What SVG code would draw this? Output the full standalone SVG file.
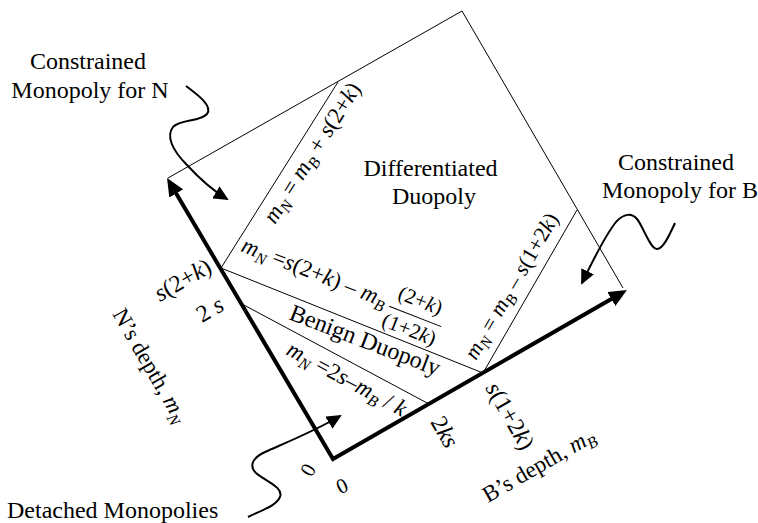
<svg xmlns="http://www.w3.org/2000/svg" width="758" height="523" viewBox="0 0 758 523">
<style>
text{font-family:"Liberation Serif","Times New Roman",serif;fill:#000}
.lbl{font-size:24px}
.eq{font-size:23px}
.eq2{font-size:22px}
.frac{font-size:21px}
.it{font-style:italic}
.sub{font-size:16px;font-style:italic}
.thin{stroke:#000;stroke-width:1;fill:none}
.axis{stroke:#000;stroke-width:4;fill:none;stroke-linejoin:miter}
.curly{stroke:#000;stroke-width:2;fill:none}
</style>
<defs>
<marker id="bigHead" markerUnits="userSpaceOnUse" markerWidth="18" markerHeight="16" viewBox="0 0 18 16" refX="11" refY="8" orient="auto-start-reverse"><path d="M0,0 L18,8 L0,16 z" fill="#000"/></marker>
<marker id="smallHead" markerUnits="userSpaceOnUse" markerWidth="15" markerHeight="14" viewBox="0 0 15 14" refX="13" refY="7" orient="auto"><path d="M0,0 L15,7 L0,14 z" fill="#000"/></marker>
</defs>
<rect width="758" height="523" fill="#fff"/>

<g id="boundaries">
<path class="thin" d="M168,178 L462,11 L623,288"/>
<path class="thin" d="M221,268 L338,82"/>
<path class="thin" d="M221,268 L483,373"/>
<path class="thin" d="M242,304 L429,404"/>
<path class="thin" d="M483,373 L577,210"/>
</g>

<g id="axes">
<path class="axis" d="M170.6,184.0 L333,459 L620.9,293.5" marker-start="url(#bigHead)" marker-end="url(#bigHead)"/>
</g>

<g id="connectors">
<path class="curly" d="M186,86 C198,95 213,106 207,114 C200,122 180,119 173,127 C166,136 172,150 187,165 C198,177 212,190 227,199" marker-end="url(#smallHead)"/>
<path class="curly" d="M675,223 C669,236 663,249 657,249 C650,249 643,226 637,219 C632,213 624,213 616,222 C608,232 594,258 582,283" marker-end="url(#smallHead)"/>
<path class="curly" d="M248,517 C262,510 276,506 280,497 C284,487 265,481 256,473 C249,466 252,458 265,452 C285,443 315,431 340,416" marker-end="url(#smallHead)"/>
</g>

<g id="node-cm-n">
<text class="lbl" x="88" y="69" text-anchor="middle">Constrained</text>
<text class="lbl" x="90" y="98" text-anchor="middle">Monopoly for N</text>
</g>
<g id="node-diff">
<text class="lbl" x="430.5" y="176" text-anchor="middle">Differentiated</text>
<text class="lbl" x="434" y="204" text-anchor="middle">Duopoly</text>
</g>
<g id="node-cm-b">
<text class="lbl" x="676" y="170" text-anchor="middle">Constrained</text>
<text class="lbl" x="680" y="198" text-anchor="middle">Monopoly for B</text>
</g>
<g id="node-detached">
<text class="lbl" x="7" y="518">Detached Monopolies</text>
</g>
<g id="node-benign">
<text class="lbl" transform="translate(288,319) rotate(21)">Benign Duopoly</text>
</g>

<g id="axis-labels">
<text class="eq" transform="translate(112,314) rotate(60)">N’s depth, <tspan class="it">m</tspan><tspan class="sub" dy="5">N</tspan></text>
<text class="eq" transform="translate(488,503) rotate(-30)">B’s depth, <tspan class="it">m</tspan><tspan class="sub" dy="5">B</tspan></text>
<text class="lbl" transform="translate(160,302) rotate(-30)"><tspan class="it">s</tspan>(2+<tspan class="it">k</tspan>)</text>
<text class="lbl" transform="translate(202,323) rotate(-30)">2 <tspan class="it">s</tspan></text>
<text class="lbl" transform="translate(430,422) rotate(60)">2<tspan class="it">ks</tspan></text>
<text class="lbl" transform="translate(485,388) rotate(60)"><tspan class="it">s</tspan>(1+2<tspan class="it">k</tspan>)</text>
<text class="frac" transform="translate(308,470) rotate(-60)" y="7" text-anchor="middle">0</text>
<text class="frac" transform="translate(342,486) rotate(-25)" y="7" text-anchor="middle">0</text>
</g>

<g id="equations">
<text class="eq" transform="translate(275,225) rotate(-57.6)"><tspan class="it">m</tspan><tspan class="sub" dy="5">N</tspan><tspan dy="-5"> = </tspan><tspan class="it">m</tspan><tspan class="sub" dy="5">B</tspan><tspan dy="-5"> + </tspan><tspan class="it">s</tspan>(2+<tspan class="it">k</tspan>)</text>
<text class="eq2" transform="translate(476,361) rotate(-59.7)"><tspan class="it">m</tspan><tspan class="sub" dy="5">N</tspan><tspan dy="-5"> = </tspan><tspan class="it">m</tspan><tspan class="sub" dy="5">B</tspan><tspan dy="-5"> – </tspan><tspan class="it">s</tspan>(1+2<tspan class="it">k</tspan>)</text>
<text class="eq" transform="translate(285,354) rotate(28.3)"><tspan class="it">m</tspan><tspan class="sub" dy="5">N</tspan><tspan dy="-5"> =2</tspan><tspan class="it">s</tspan>–<tspan class="it">m</tspan><tspan class="sub" dy="5">B</tspan><tspan dy="-5"> / </tspan><tspan class="it">k</tspan></text>
<g transform="translate(240,251) rotate(21.4)">
<text class="eq"><tspan class="it">m</tspan><tspan class="sub" dy="5">N</tspan><tspan dy="-5"> =</tspan><tspan class="it">s</tspan>(2+<tspan class="it">k</tspan>) – <tspan class="it">m</tspan><tspan class="sub" dy="5">B</tspan></text>
<text class="frac" x="186" y="-13" text-anchor="middle">(2+<tspan class="it">k</tspan>)</text>
<line class="thin" x1="159" y1="-3" x2="215" y2="-3"/>
<text class="frac" x="186" y="18" text-anchor="middle">(1+2<tspan class="it">k</tspan>)</text>
</g>
</g>
</svg>
